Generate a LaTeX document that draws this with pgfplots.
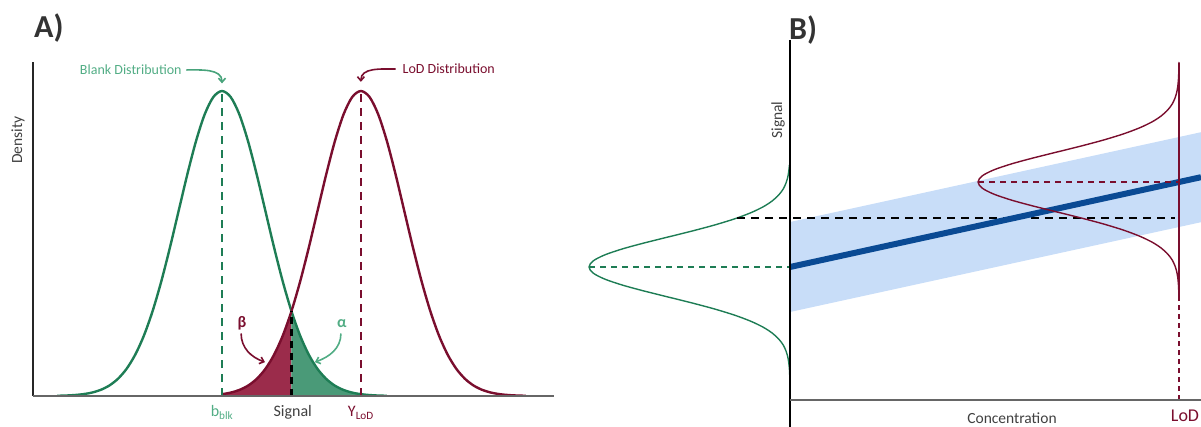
\documentclass[border=0pt]{standalone}
\usepackage{fontspec}
\setmainfont{Carlito}
\usepackage{pgfplots}
\pgfplotsset{compat=1.18}
\usetikzlibrary{arrows.meta}

\definecolor{blankgreen}{HTML}{1E7D55}
\definecolor{alphafill}{HTML}{4A9A78}
\definecolor{lightgreen}{HTML}{52AD85}
\definecolor{lodred}{HTML}{7A0E2E}
\definecolor{betafill}{HTML}{9B2C4B}
\definecolor{bandblue}{HTML}{C8DDF8}
\definecolor{lineblue}{HTML}{0A4A94}
\definecolor{txtgray}{HTML}{404040}

\newcommand{\lab}[1]{\fontsize{#1}{#1}\selectfont}

\begin{document}
\begin{tikzpicture}[x=1pt,y=1pt]
\useasboundingbox (0,0) rectangle (1201,426);

% ---------------- Panel A: blank and LoD densities ----------------
\begin{axis}[at={(33pt,30pt)}, anchor=south west,
  x=43.4pt, y=305pt, xmin=-4.355, xmax=7.65, ymin=0, ymax=1.095,
  hide axis, clip=false]

% beta: LoD density below the decision threshold
\addplot[fill=betafill, draw=none] coordinates {
  (0,0.00598) (0.2,0.01111) (0.4,0.01984) (0.6,0.03405) (0.8,0.05613)
  (1.0,0.08892) (1.2,0.13534) (1.4,0.19790) (1.6,0.27804)} \closedcycle;
% alpha: blank density above the decision threshold
\addplot[fill=alphafill, draw=none] coordinates {
  (1.6,0.27804) (1.8,0.19790) (2.0,0.13534) (2.2,0.08892) (2.4,0.05613)
  (2.6,0.03405) (2.8,0.01984) (3.0,0.01111) (3.2,0.00598)} \closedcycle;

% blank distribution
\addplot[blankgreen, line width=2.4pt, smooth] coordinates {
  (-3.8,0.00073) (-3.6,0.00153) (-3.4,0.00309) (-3.2,0.00598) (-3.0,0.01111)
  (-2.8,0.01984) (-2.6,0.03405) (-2.4,0.05613) (-2.2,0.08892) (-2.0,0.13534)
  (-1.8,0.19790) (-1.6,0.27804) (-1.4,0.37531) (-1.2,0.48675) (-1.0,0.60653)
  (-0.8,0.72615) (-0.6,0.83527) (-0.4,0.92312) (-0.2,0.98020) (0,1)
  (0.2,0.98020) (0.4,0.92312) (0.6,0.83527) (0.8,0.72615) (1.0,0.60653)
  (1.2,0.48675) (1.4,0.37531) (1.6,0.27804) (1.8,0.19790) (2.0,0.13534)
  (2.2,0.08892) (2.4,0.05613) (2.6,0.03405) (2.8,0.01984) (3.0,0.01111)
  (3.2,0.00598) (3.4,0.00309) (3.6,0.00153) (3.8,0.00073)};

% LoD distribution
\addplot[lodred, line width=2.4pt, smooth] coordinates {
  (0,0.00598) (0.2,0.01111) (0.4,0.01984) (0.6,0.03405) (0.8,0.05613)
  (1.0,0.08892) (1.2,0.13534) (1.4,0.19790) (1.6,0.27804) (1.8,0.37531)
  (2.0,0.48675) (2.2,0.60653) (2.4,0.72615) (2.6,0.83527) (2.8,0.92312)
  (3.0,0.98020) (3.2,1) (3.4,0.98020) (3.6,0.92312) (3.8,0.83527)
  (4.0,0.72615) (4.2,0.60653) (4.4,0.48675) (4.6,0.37531) (4.8,0.27804)
  (5.0,0.19790) (5.2,0.13534) (5.4,0.08892) (5.6,0.05613) (5.8,0.03405)
  (6.0,0.01984) (6.2,0.01111) (6.4,0.00598) (6.6,0.00309) (6.8,0.00153)
  (7.0,0.00073)};

% means and threshold
\addplot[blankgreen, line width=2.6pt, dash pattern=on 8pt off 6pt] coordinates {(0,0) (0,1)};
\addplot[lodred, line width=2.6pt, dash pattern=on 8pt off 6pt] coordinates {(3.2,0) (3.2,1)};
\addplot[black, line width=2.8pt, dash pattern=on 7pt off 5pt] coordinates {(1.6,0) (1.6,0.27804)};

% axis lines
\draw[black!85, line width=1.3pt] (axis cs:-4.355,0) -- (axis cs:-4.355,1.095);
\draw[black!60, line width=1.3pt] (axis cs:-4.355,0) -- (axis cs:7.65,0);

% labels
\node[rotate=90, text=txtgray, font=\lab{15.5}] at (axis cs:-4.70,0.839) {Density};
\node[text=lightgreen, font=\lab{14}, anchor=east] at (axis cs:-0.85,1.069) {Blank Distribution};
\draw[lightgreen!80!blankgreen, line width=1.6pt, -{Straight Barb[length=4pt,width=7pt]}]
  (axis cs:-0.82,1.069) to[out=0,in=90] (axis cs:0,1.025);
\node[text=lodred, font=\lab{14}, anchor=west] at (axis cs:4.08,1.072) {LoD Distribution};
\draw[lodred, line width=1.6pt, -{Straight Barb[length=4pt,width=7pt]}]
  (axis cs:4.0,1.072) to[out=180,in=90] (axis cs:3.2,1.03);

\node[text=lodred, font=\lab{16}\bfseries] at (axis cs:0.46,0.239) {β};
\draw[lodred, line width=1.6pt, -{Straight Barb[length=4pt,width=7pt]}]
  (axis cs:0.44,0.205) to[out=-90,in=160] (axis cs:0.99,0.111);
\node[text=lightgreen, font=\lab{16}\bfseries] at (axis cs:2.76,0.239) {α};
\draw[lightgreen, line width=1.6pt, -{Straight Barb[length=4pt,width=7pt]}]
  (axis cs:2.74,0.205) to[out=-90,in=20] (axis cs:2.14,0.111);

\node[text=lightgreen, font=\lab{16}, anchor=base] at (axis cs:0,-0.067) {b\textsubscript{blk}};
\node[text=txtgray, font=\lab{16}, anchor=base] at (axis cs:1.63,-0.067) {Signal};
\node[text=lodred, font=\lab{16}, anchor=base] at (axis cs:3.2,-0.067) {Y\textsubscript{LoD}};
\end{axis}

% ---------------- Panel B: calibration line ----------------
\begin{axis}[at={(790pt,26pt)}, anchor=south west,
  x=1pt, y=1pt, xmin=0, xmax=411, ymin=0, ymax=360,
  hide axis, clip=false]

% prediction band
\addplot[fill=bandblue, draw=none] coordinates {(0,88) (411,177.8) (411,267.8) (0,178)} -- cycle;

% blank distribution on the signal axis
\addplot[blankgreen, line width=1.4pt, smooth] coordinates {
  (-0.1,16) (-0.1,19) (-0.3,25) (-0.6,31) (-1.2,37) (-2.2,43) (-4.0,49) (-6.8,55)
  (-11.3,61) (-17.9,67) (-27.2,73) (-39.8,79) (-55.9,85) (-75.4,91)
  (-97.8,97) (-121.9,103) (-146.0,109) (-167.9,115) (-185.5,121)
  (-197.0,127) (-201,133) (-197.0,139) (-185.5,145) (-167.9,151)
  (-146.0,157) (-121.9,163) (-97.8,169) (-75.4,175) (-55.9,181)
  (-39.8,187) (-27.2,193) (-17.9,199) (-11.3,205) (-6.8,211) (-4.0,217)
  (-2.2,223) (-1.2,229) (-0.6,235)};
\addplot[blankgreen, line width=1.5pt, dash pattern=on 6pt off 5pt] coordinates {(-201,133) (0,133)};

% decision threshold
\addplot[black, line width=2pt, dash pattern=on 8pt off 6pt] coordinates {(-53,182) (385,182)};

% calibration line
\addplot[lineblue, line width=6pt] coordinates {(0,133) (411,222.8)};

% LoD distribution
\addplot[lodred, line width=1.4pt, smooth] coordinates {
  (388.9,104) (388.7,110) (388.4,116) (387.8,122) (386.8,128) (385.0,134)
  (382.2,140) (377.7,146) (371.1,152) (361.8,158) (349.2,164) (333.1,170)
  (313.6,176) (291.2,182) (267.1,188) (243.0,194) (221.1,200) (203.5,206)
  (192.0,212) (188,218) (192.0,224) (203.5,230) (221.1,236) (243.0,242)
  (267.1,248) (291.2,254) (313.6,260) (333.1,266) (349.2,272) (361.8,278)
  (371.1,284) (377.7,290) (382.2,296) (385.0,302) (386.8,308) (387.8,314)
  (388.4,320) (388.7,326) (388.9,332) (389,338)};
\addplot[lodred, line width=1.5pt, dash pattern=on 6pt off 5pt] coordinates {(188,218) (389,218)};
\addplot[lodred, line width=1.6pt] coordinates {(389,100) (389,337)};
\addplot[lodred, line width=1.6pt, dash pattern=on 5pt off 4pt] coordinates {(389,0) (389,100)};

% axis lines
\draw[black, line width=1.4pt] (axis cs:0,-30) -- (axis cs:0,360);
\draw[black!60, line width=1.3pt] (axis cs:0,0) -- (axis cs:411,0);

% labels
\node[rotate=90, text=txtgray, font=\lab{15.5}] at (axis cs:-12,280) {Signal};
\node[text=txtgray, font=\lab{15.5}] at (axis cs:222,-18) {Concentration};
\node[text=lodred, font=\lab{18}, anchor=base, inner sep=0pt] at (axis cs:395,-21.5) {LoD};
\end{axis}

% panel tags
\node[anchor=base west, inner sep=0pt, text=black!80, font=\lab{32}\bfseries] at (34,388) {A)};
\node[anchor=base west, inner sep=0pt, text=black!80, font=\lab{32}\bfseries] at (789,386) {B)};
\end{tikzpicture}
\end{document}
